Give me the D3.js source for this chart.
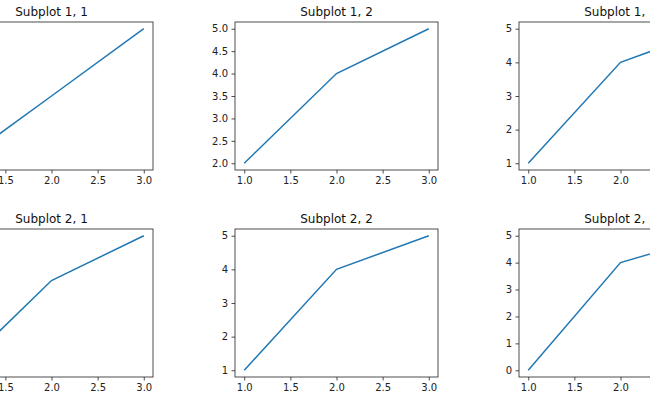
<!DOCTYPE html>
<html><head><meta charset="utf-8">
<script src="https://cdn.jsdelivr.net/npm/d3@7"></script>
<style>body{margin:0;background:#fff}svg{display:block}text{font-family:"DejaVu Sans",sans-serif}</style>
</head><body>
<script>
const xValues = [1, 2, 3];
const titles = ["Subplot 1, 1","Subplot 1, 2","Subplot 1, 3","Subplot 2, 1","Subplot 2, 2","Subplot 2, 3"];
const series = [[3,4,5],[2,4,5],[1,4,5],[2,4,5],[1,4,5],[0,4,5]];
const xTicks = [1.0,1.5,2.0,2.5,3.0];

const W=650,H=400;
const svg=d3.select("body").append("svg").attr("width",W).attr("height",H);
const colLeft=[-50,235,519], rowTop=[22,229], aw=203, ah=148;
series.forEach((ys,i)=>{
  const r=Math.floor(i/3), c=i%3;
  const g=svg.append("g").attr("transform",`translate(${colLeft[c]},${rowTop[r]})`);
  const x=d3.scaleLinear().domain([0.9,3.1]).range([0,aw]);
  const mn=d3.min(ys), mx=d3.max(ys), pad=(mx-mn)*0.05;
  const y=d3.scaleLinear().domain([mn-pad,mx+pad]).range([ah,0]);
  const step=(mx-mn)<=3?0.5:1;
  const yt=d3.range(mn,mx+1e-9,step);
  const xa=g.append("g").attr("transform",`translate(0,${ah})`)
    .call(d3.axisBottom(x).tickValues(xTicks).tickFormat(d3.format(".1f")).tickSize(3.5).tickPadding(3.5));
  const ya=g.append("g").call(d3.axisLeft(y).tickValues(yt).tickFormat(step<1?d3.format(".1f"):d3.format("d")).tickSize(3.5).tickPadding(3.5));
  [xa,ya].forEach(a=>{a.select(".domain").remove();a.selectAll("text").attr("font-size",10).attr("fill","#222").style("font-family","DejaVu Sans");a.selectAll("line").attr("stroke","#222").attr("stroke-width",0.8);});
  g.append("path").datum(ys).attr("fill","none").attr("stroke","#1f77b4").attr("stroke-width",1.5)
    .attr("d",d3.line().x((d,k)=>x(xValues[k])).y(d=>y(d)));
  g.append("rect").attr("width",aw).attr("height",ah).attr("fill","none").attr("stroke","#222").attr("stroke-width",0.8);
  g.append("text").attr("x",aw/2).attr("y",-6).attr("text-anchor","middle").attr("font-size",12).attr("fill","#111").text(titles[i]);
});
</script></body></html>
